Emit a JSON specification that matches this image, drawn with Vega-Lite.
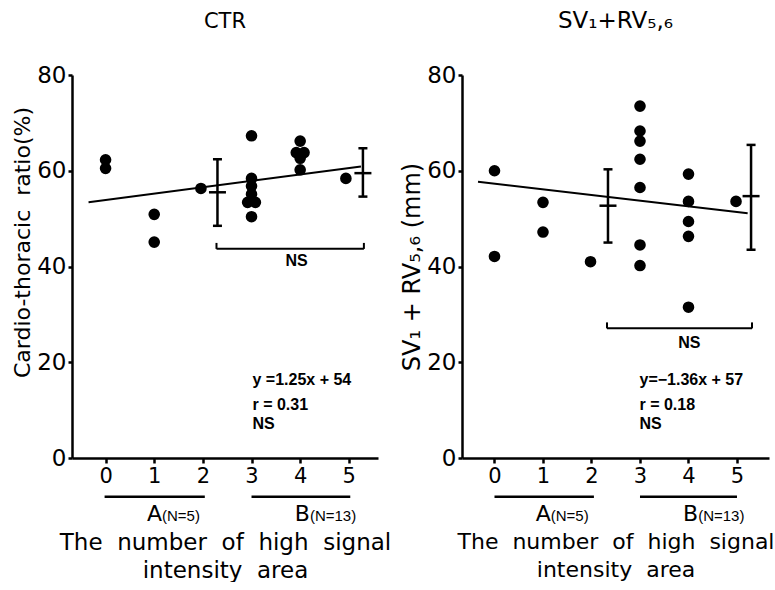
{
  "$schema": "https://vega.github.io/schema/vega-lite/v6.json",
  "background": "white",
  "padding": {"left": 11, "top": 10, "right": 0, "bottom": 0},
  "config": {
    "view": {"stroke": null},
    "font": "DejaVu Sans",
    "axis": {"domainColor": "black", "domainWidth": 2.5, "tickColor": "black", "tickWidth": 2.5, "labelColor": "black", "titleColor": "black", "grid": false, "labelFont": "DejaVu Sans", "titleFont": "DejaVu Sans", "titleFontWeight": "normal"},
    "title": {"font": "DejaVu Sans", "fontWeight": "normal", "color": "black"},
    "text": {"font": "Liberation Sans", "color": "black"}
  },
  "datasets": {
    "ctr_points": [
      {"n": 0, "v": 62.3}, {"n": 0, "v": 60.5},
      {"n": 1, "v": 50.9}, {"n": 1, "v": 45.1},
      {"n": 1.96, "v": 56.3},
      {"n": 3, "v": 67.3}, {"n": 3, "v": 58.4}, {"n": 3, "v": 56.8}, {"n": 3, "v": 55.1}, {"n": 2.92, "v": 53.4}, {"n": 3.08, "v": 53.4}, {"n": 3, "v": 50.4},
      {"n": 4, "v": 66.2}, {"n": 3.92, "v": 63.8}, {"n": 4.08, "v": 63.8}, {"n": 4, "v": 62.6}, {"n": 4, "v": 60.2},
      {"n": 4.94, "v": 58.4}
    ],
    "ctr_line": [{"n": -0.35, "v": 53.4}, {"n": 5.25, "v": 60.9}],
    "ctr_err": [{"n": 2.3, "lo": 48.5, "hi": 62.4, "mean": 55.5}, {"n": 5.29, "lo": 54.6, "hi": 64.7, "mean": 59.5}],
    "ctr_bracket": [{"n": 2.28, "n2": 5.31, "v": 43.7}],
    "ctr_bracket_ends": [{"n": 2.28, "v": 44.3}, {"n": 5.31, "v": 44.3}],
    "ctr_labels": [
      {"n": 3.7, "v": 41.2, "label": "NS"},
      {"n": 3.02, "v": 16.3, "label": "y =1.25x + 54"},
      {"n": 3.02, "v": 11.1, "label": "r = 0.31"},
      {"n": 3.02, "v": 7.0, "label": "NS"}
    ],
    "ctr_groups": [{"n": -0.02, "n2": 2.04, "v": -8.1}, {"n": 3.0, "n2": 5.03, "v": -8.1}],
    "ctr_glet": [{"n": 1.16, "v": -11.8, "label": "A"}, {"n": 4.2, "v": -11.8, "label": "B"}],
    "ctr_gn": [{"n": 1.16, "v": -11.8, "label": "(N=5)"}, {"n": 4.2, "v": -11.8, "label": "(N=13)"}],
    "sv_points": [
      {"n": 0, "v": 60.0}, {"n": 0, "v": 42.1},
      {"n": 1, "v": 53.4}, {"n": 1, "v": 47.2},
      {"n": 1.98, "v": 41.0},
      {"n": 3, "v": 73.5}, {"n": 3, "v": 68.3}, {"n": 3, "v": 66.2}, {"n": 3, "v": 62.4}, {"n": 3, "v": 56.5}, {"n": 3, "v": 44.5}, {"n": 3, "v": 40.2},
      {"n": 4, "v": 59.3}, {"n": 4, "v": 53.6}, {"n": 4, "v": 49.4}, {"n": 4, "v": 46.3}, {"n": 4, "v": 31.5},
      {"n": 4.98, "v": 53.6}
    ],
    "sv_line": [{"n": -0.34, "v": 57.7}, {"n": 5.22, "v": 51.1}],
    "sv_err": [{"n": 2.34, "lo": 45.0, "hi": 60.3, "mean": 52.7}, {"n": 5.29, "lo": 43.5, "hi": 65.4, "mean": 54.7}],
    "sv_bracket": [{"n": 2.32, "n2": 5.31, "v": 27.1}],
    "sv_bracket_ends": [{"n": 2.32, "v": 27.7}, {"n": 5.31, "v": 27.7}],
    "sv_labels": [
      {"n": 3.79, "v": 24.0, "label": "NS"},
      {"n": 2.99, "v": 16.3, "label": "y=−1.36x + 57"},
      {"n": 2.99, "v": 11.1, "label": "r = 0.18"},
      {"n": 2.99, "v": 7.0, "label": "NS"}
    ],
    "sv_groups": [{"n": 0, "n2": 2.05, "v": -8.1}, {"n": 3, "n2": 5.0, "v": -8.1}],
    "sv_glet": [{"n": 1.16, "v": -11.8, "label": "A"}, {"n": 4.2, "v": -11.8, "label": "B"}],
    "sv_gn": [{"n": 1.16, "v": -11.8, "label": "(N=5)"}, {"n": 4.2, "v": -11.8, "label": "(N=13)"}]
  },
  "hconcat": [
    {
      "width": 306, "height": 383,
      "title": {"text": "CTR", "fontSize": 21, "offset": 32},
      "encoding": {
        "x": {"field": "n", "type": "quantitative", "scale": {"domain": [-0.69, 5.6], "nice": false, "zero": false},
              "axis": {"values": [0, 1, 2, 3, 4, 5], "labelFontSize": 21, "tickSize": 5, "labelPadding": 2, "title": ["The\u00a0 number\u00a0 of\u00a0 high\u00a0 signal", "intensity\u00a0 area"], "titleFontSize": 23, "titlePadding": 45, "titleLineHeight": 28}},
        "y": {"field": "v", "type": "quantitative", "scale": {"domain": [0, 80], "nice": false},
              "axis": {"values": [0, 20, 40, 60, 80], "labelFontSize": 23, "tickSize": 4, "labelPadding": 2, "title": "Cardio-thoracic\u00a0 ratio(%)", "titleFontSize": 22, "titlePadding": 2, "titleY": 167}}
      },
      "layer": [
        {"data": {"name": "ctr_points"}, "mark": {"type": "circle", "size": 135, "color": "black", "opacity": 1}},
        {"data": {"name": "ctr_line"}, "mark": {"type": "line", "color": "black", "strokeWidth": 2}},
        {"data": {"name": "ctr_err"}, "mark": {"type": "rule", "color": "black", "strokeWidth": 2.5}, "encoding": {"y": {"field": "lo", "type": "quantitative"}, "y2": {"field": "hi"}}},
        {"data": {"name": "ctr_err"}, "mark": {"type": "tick", "orient": "horizontal", "color": "black", "size": 9, "thickness": 2.5, "opacity": 1}, "encoding": {"y": {"field": "lo", "type": "quantitative"}}},
        {"data": {"name": "ctr_err"}, "mark": {"type": "tick", "orient": "horizontal", "color": "black", "size": 9, "thickness": 2.5, "opacity": 1}, "encoding": {"y": {"field": "hi", "type": "quantitative"}}},
        {"data": {"name": "ctr_err"}, "mark": {"type": "tick", "orient": "horizontal", "color": "black", "size": 17, "thickness": 2.5, "opacity": 1}, "encoding": {"y": {"field": "mean", "type": "quantitative"}}},
        {"data": {"name": "ctr_bracket"}, "mark": {"type": "rule", "color": "black", "strokeWidth": 2}, "encoding": {"x2": {"field": "n2"}}},
        {"data": {"name": "ctr_bracket_ends"}, "mark": {"type": "tick", "orient": "vertical", "color": "black", "size": 6, "thickness": 2, "opacity": 1}},
        {"data": {"name": "ctr_labels"}, "mark": {"type": "text", "align": "left", "baseline": "middle", "fontSize": 16, "fontWeight": "bold"}, "encoding": {"text": {"field": "label"}}},
        {"data": {"name": "ctr_groups"}, "mark": {"type": "rule", "color": "black", "strokeWidth": 2.5}, "encoding": {"x2": {"field": "n2"}}},
        {"data": {"name": "ctr_glet"}, "mark": {"type": "text", "align": "right", "baseline": "middle", "fontSize": 22, "font": "DejaVu Sans"}, "encoding": {"text": {"field": "label"}}},
        {"data": {"name": "ctr_gn"}, "mark": {"type": "text", "align": "left", "baseline": "middle", "fontSize": 15, "dy": 2}, "encoding": {"text": {"field": "label"}}}
      ]
    },
    {
      "width": 307, "height": 383,
      "title": {"text": "SV₁+RV₅,₆", "fontSize": 23, "offset": 31},
      "encoding": {
        "x": {"field": "n", "type": "quantitative", "scale": {"domain": [-0.67, 5.66], "nice": false, "zero": false},
              "axis": {"values": [0, 1, 2, 3, 4, 5], "labelFontSize": 21, "tickSize": 5, "labelPadding": 2, "title": ["The\u00a0 number\u00a0 of\u00a0 high\u00a0 signal", "intensity\u00a0 area"], "titleFontSize": 22, "titlePadding": 45, "titleLineHeight": 28}},
        "y": {"field": "v", "type": "quantitative", "scale": {"domain": [0, 80], "nice": false},
              "axis": {"values": [0, 20, 40, 60, 80], "labelFontSize": 23, "tickSize": 4, "labelPadding": 2, "title": "SV₁\u00a0+\u00a0RV₅,₆\u00a0(mm)", "titleFontSize": 24, "titlePadding": 2}}
      },
      "layer": [
        {"data": {"name": "sv_points"}, "mark": {"type": "circle", "size": 135, "color": "black", "opacity": 1}},
        {"data": {"name": "sv_line"}, "mark": {"type": "line", "color": "black", "strokeWidth": 2}},
        {"data": {"name": "sv_err"}, "mark": {"type": "rule", "color": "black", "strokeWidth": 2.5}, "encoding": {"y": {"field": "lo", "type": "quantitative"}, "y2": {"field": "hi"}}},
        {"data": {"name": "sv_err"}, "mark": {"type": "tick", "orient": "horizontal", "color": "black", "size": 9, "thickness": 2.5, "opacity": 1}, "encoding": {"y": {"field": "lo", "type": "quantitative"}}},
        {"data": {"name": "sv_err"}, "mark": {"type": "tick", "orient": "horizontal", "color": "black", "size": 9, "thickness": 2.5, "opacity": 1}, "encoding": {"y": {"field": "hi", "type": "quantitative"}}},
        {"data": {"name": "sv_err"}, "mark": {"type": "tick", "orient": "horizontal", "color": "black", "size": 17, "thickness": 2.5, "opacity": 1}, "encoding": {"y": {"field": "mean", "type": "quantitative"}}},
        {"data": {"name": "sv_bracket"}, "mark": {"type": "rule", "color": "black", "strokeWidth": 2}, "encoding": {"x2": {"field": "n2"}}},
        {"data": {"name": "sv_bracket_ends"}, "mark": {"type": "tick", "orient": "vertical", "color": "black", "size": 6, "thickness": 2, "opacity": 1}},
        {"data": {"name": "sv_labels"}, "mark": {"type": "text", "align": "left", "baseline": "middle", "fontSize": 16, "fontWeight": "bold"}, "encoding": {"text": {"field": "label"}}},
        {"data": {"name": "sv_groups"}, "mark": {"type": "rule", "color": "black", "strokeWidth": 2.5}, "encoding": {"x2": {"field": "n2"}}},
        {"data": {"name": "sv_glet"}, "mark": {"type": "text", "align": "right", "baseline": "middle", "fontSize": 22, "font": "DejaVu Sans"}, "encoding": {"text": {"field": "label"}}},
        {"data": {"name": "sv_gn"}, "mark": {"type": "text", "align": "left", "baseline": "middle", "fontSize": 15, "dy": 2}, "encoding": {"text": {"field": "label"}}}
      ]
    }
  ],
  "spacing": 84,
  "bounds": "flush"
}
